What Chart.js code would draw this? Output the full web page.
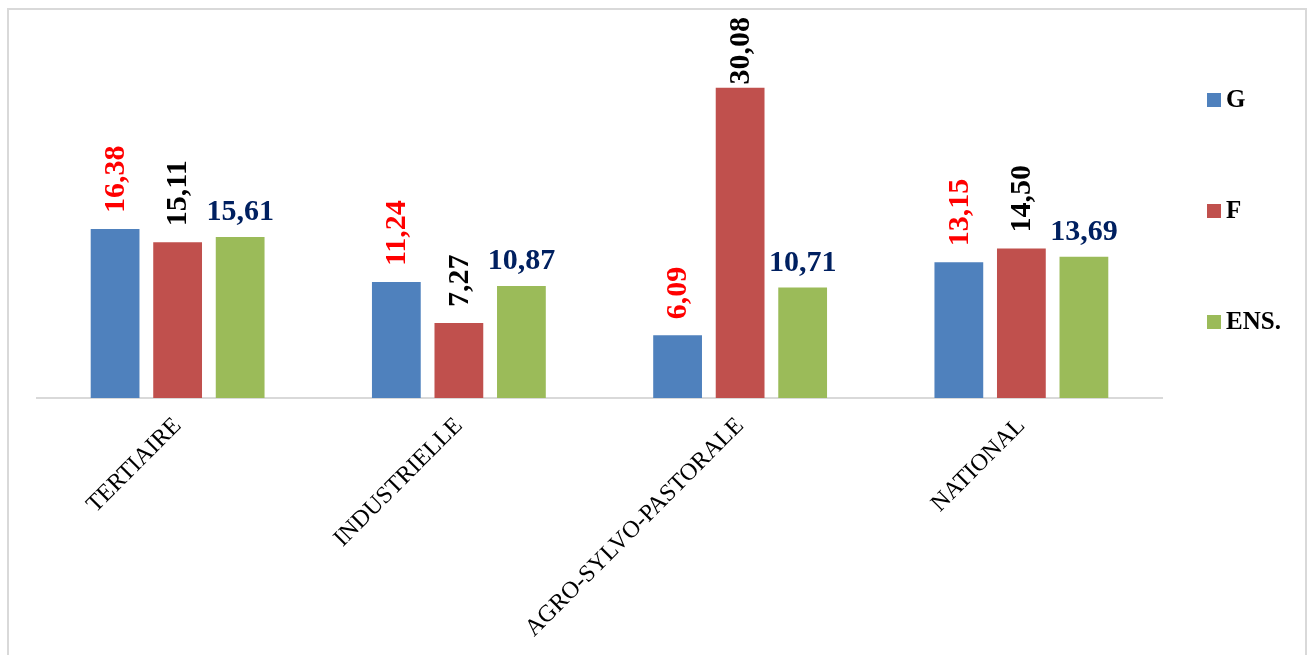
<!DOCTYPE html>
<html>
<head>
<meta charset="utf-8">
<script src="https://cdn.jsdelivr.net/npm/chart.js@4"></script>
<style>
  html, body { margin: 0; padding: 0; background: #fff; }
  #wrap { position: relative; width: 1310px; height: 655px; }
</style>
</head>
<body>
<div id="wrap"><canvas id="chart"></canvas></div>
<script>
const categories = ["TERTIAIRE", "INDUSTRIELLE", "AGRO-SYLVO-PASTORALE", "NATIONAL"];
const seriesNames = ["G", "F", "ENS."];
const valuesG = [16.38, 11.24, 6.09, 13.15];
const valuesF = [15.11, 7.27, 30.08, 14.50];
const valuesEns = [15.61, 10.87, 10.71, 13.69];

const barColors = ["#4F81BD", "#C0504D", "#9BBB59"];
const labelColors = ["#FF0000", "#000000", "#002060"];

const SERIF = "'Liberation Serif', 'Times New Roman', serif";

function fmt(v) {
  return v.toFixed(2).replace(".", ",");
}

// cadre gris autour du graphique
const frame = {
  id: "frame",
  beforeDraw(chart) {
    const c = chart.ctx;
    c.save();
    c.fillStyle = "#fff";
    c.fillRect(0, 0, chart.width, chart.height);
    c.strokeStyle = "#D9D9D9";
    c.lineWidth = 2;
    c.strokeRect(8, 9, 1298, 700);
    c.restore();
  }
};

// étiquettes de valeurs (G et F verticales, ENS. horizontale)
const valueLabels = {
  id: "valueLabels",
  afterDatasetsDraw(chart) {
    const c = chart.ctx;
    c.save();
    c.font = "bold 30px " + SERIF;
    chart.data.datasets.forEach((ds, i) => {
      const meta = chart.getDatasetMeta(i);
      meta.data.forEach((bar, j) => {
        const txt = fmt(ds.data[j]);
        c.fillStyle = labelColors[i];
        if (i === 2) {
          c.textAlign = "center";
          c.textBaseline = "alphabetic";
          c.fillText(txt, bar.x, bar.y - 17);
        } else {
          const w = c.measureText(txt).width;
          const y0 = Math.max(bar.y - 16, 17 + w);
          c.save();
          c.translate(bar.x + 1, y0);
          c.rotate(-Math.PI / 2);
          c.textAlign = "left";
          c.textBaseline = "middle";
          c.fillText(txt, 0, 0);
          c.restore();
        }
      });
    });
    c.restore();
  }
};

// légende à droite, espacée comme l'original
const sideLegend = {
  id: "sideLegend",
  afterDraw(chart) {
    const c = chart.ctx;
    c.save();
    c.font = "bold 25px " + SERIF;
    c.textAlign = "left";
    c.textBaseline = "middle";
    chart.data.datasets.forEach((ds, i) => {
      const cy = 100 + i * 111;
      c.fillStyle = ds.backgroundColor;
      c.fillRect(1207, cy - 7, 14, 14);
      c.fillStyle = "#000";
      c.fillText(ds.label, 1226, cy + 1);
    });
    c.restore();
  }
};

const ctx = document.getElementById("chart");

new Chart(ctx, {
  type: "bar",
  data: {
    labels: categories,
    datasets: [
      { label: seriesNames[0], data: valuesG, backgroundColor: barColors[0] },
      { label: seriesNames[1], data: valuesF, backgroundColor: barColors[1] },
      { label: seriesNames[2], data: valuesEns, backgroundColor: barColors[2] },
    ],
  },
  options: {
    responsive: true,
    maintainAspectRatio: false,
    animation: false,
    categoryPercentage: 0.667,
    barPercentage: 0.78,
    layout: {
      padding: { left: 37, right: 148, top: 37, bottom: 0 },
    },
    plugins: {
      legend: { display: false },
      tooltip: { enabled: false },
    },
    scales: {
      x: {
        grid: { display: false, drawTicks: false },
        border: { display: true, color: "#D9D9D9", width: 2 },
        ticks: {
          color: "#000",
          minRotation: 45,
          maxRotation: 45,
          padding: 14,
          font: { family: SERIF, size: 24 },
        },
        afterFit(scale) {
          scale.height = 257;
        },
      },
      y: {
        display: false,
        min: 0,
        max: 35,
      },
    },
  },
  plugins: [frame, valueLabels, sideLegend],
});
</script>
</body>
</html>
